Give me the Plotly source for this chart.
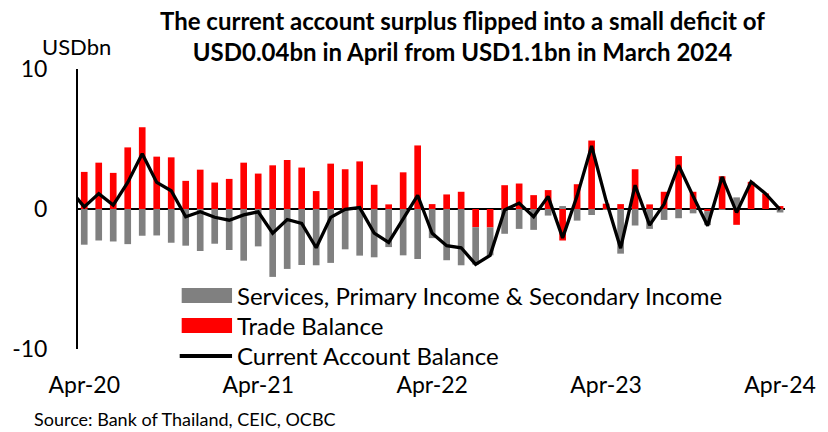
import plotly.graph_objects as go

# Month categories (Mar-20 only carries the line's lead-in point)
months = [
    "Mar-20", "Apr-20", "May-20", "Jun-20", "Jul-20", "Aug-20", "Sep-20", "Oct-20", "Nov-20", "Dec-20",
    "Jan-21", "Feb-21", "Mar-21", "Apr-21", "May-21", "Jun-21", "Jul-21", "Aug-21", "Sep-21", "Oct-21", "Nov-21", "Dec-21",
    "Jan-22", "Feb-22", "Mar-22", "Apr-22", "May-22", "Jun-22", "Jul-22", "Aug-22", "Sep-22", "Oct-22", "Nov-22", "Dec-22",
    "Jan-23", "Feb-23", "Mar-23", "Apr-23", "May-23", "Jun-23", "Jul-23", "Aug-23", "Sep-23", "Oct-23", "Nov-23", "Dec-23",
    "Jan-24", "Feb-24", "Mar-24", "Apr-24",
]
bar_months = months[1:]

# Trade balance, USDbn (Apr-20 .. Apr-24)
trade_balance = [
    2.65, 3.31, 2.58, 4.40, 5.84, 3.74, 3.69, 2.01, 2.81,
    1.89, 2.15, 3.31, 2.53, 3.12, 3.50, 2.96, 1.28, 3.24, 2.84, 3.40, 1.73,
    0.33, 2.62, 4.54, 0.35, 1.04, 1.23, -1.30, -1.32, 1.70, 1.82, 0.99, 1.35,
    -2.25, 1.77, 4.89, 0.38, 0.35, 2.84, 0.33, 1.23, 3.78, 1.23, -0.15, 2.34,
    -1.13, 1.94, 1.11, 0.21,
]

# Services, primary income & secondary income, USDbn (Apr-20 .. Apr-24)
services_income = [
    -2.55, -2.25, -2.32, -2.51, -1.91, -1.89, -2.41, -2.62, -3.00,
    -2.48, -2.93, -3.69, -2.67, -4.85, -4.28, -4.00, -4.02, -3.85, -2.88, -3.33, -3.45,
    -2.72, -3.31, -3.57, -2.08, -3.66, -4.02, -2.67, -1.99, -1.77, -1.42, -1.49, -0.47,
    0.21, -0.83, -0.43, -0.05, -3.19, -1.18, -1.42, -0.78, -0.66, -0.31, -1.00, -0.05,
    0.83, 0.00, 0.00, -0.25,
]

# Current account balance, USDbn (Mar-20 .. Apr-24)
current_account = [
    1.40,
    0.15, 1.10, 0.28, 1.90, 3.95, 1.90, 1.30, -0.55, -0.19,
    -0.59, -0.80, -0.42, -0.20, -1.73, -0.75, -1.03, -2.77, -0.60, -0.02, 0.10, -1.72,
    -2.39, -0.72, 0.98, -1.73, -2.62, -2.77, -3.95, -3.31, -0.07, 0.42, -0.55, 0.90,
    -2.06, 0.94, 4.50, 0.60, -2.80, 1.70, -1.15, 0.35, 3.12, 0.92, -1.20, 2.29,
    -0.25, 1.94, 1.10, -0.04,
]

tick_labels = ["Apr-20", "Apr-21", "Apr-22", "Apr-23", "Apr-24"]
y_ticks = [-10, 0, 10]

series_names = [
    "Services, Primary Income & Secondary Income",
    "Trade Balance",
    "Current Account Balance",
]

RED = "#FF0000"
GREY = "#808080"
FONT = "Lato"

fig = go.Figure()
fig.add_trace(go.Bar(x=bar_months, y=trade_balance, name=series_names[1],
                     marker=dict(color=RED, line=dict(width=0)), width=0.46))
fig.add_trace(go.Bar(x=bar_months, y=services_income, name=series_names[0],
                     marker=dict(color=GREY, line=dict(width=0)), width=0.46))
fig.add_trace(go.Scatter(x=months, y=current_account, name=series_names[2], mode="lines",
                         line=dict(color="black", width=3.3)))

# Plot-area geometry (pixels)
W, H = 828, 432
ML, MR, MT, MB = 77, 35, 69, 83
PW, PH = W - ML - MR, H - MT - MB


def px_x(px):
    return (px - ML) / PW


def px_y(py):
    return (H - MB - py) / PH


shapes = [
    dict(type="rect", xref="paper", yref="paper", x0=px_x(182), x1=px_x(233),
         y0=px_y(303), y1=px_y(288), fillcolor=GREY, line=dict(width=0)),
    dict(type="rect", xref="paper", yref="paper", x0=px_x(182), x1=px_x(233),
         y0=px_y(333), y1=px_y(318), fillcolor=RED, line=dict(width=0)),
    dict(type="line", xref="paper", yref="paper", x0=px_x(180), x1=px_x(233),
         y0=px_y(356), y1=px_y(356), line=dict(color="black", width=4)),
]

annotations = []
for name, py in zip(series_names, [295, 325, 355]):
    annotations.append(dict(text=name, xref="paper", yref="paper", x=px_x(236), y=px_y(py),
                            xanchor="left", yanchor="middle", showarrow=False,
                            font=dict(family=FONT, size=24, color="black")))
annotations.append(dict(text="USDbn", xref="paper", yref="paper", x=px_x(39), y=px_y(46),
                        xanchor="left", yanchor="middle", showarrow=False,
                        font=dict(family=FONT, size=22, color="black")))
annotations.append(dict(text="Source: Bank of Thailand, CEIC, OCBC", xref="paper", yref="paper",
                        x=px_x(30), y=px_y(419), xanchor="left", yanchor="middle", showarrow=False,
                        font=dict(family=FONT, size=18, color="black")))
annotations.append(dict(text="<b>The current account surplus flipped into a small deficit of<br>"
                             "USD0.04bn in April from USD1.1bn in March 2024</b>",
                        xref="paper", yref="paper", x=px_x(466), y=px_y(36),
                        xanchor="center", yanchor="middle", align="center", showarrow=False,
                        font=dict(family=FONT, size=24, color="black")))

fig.update_layout(
    width=W, height=H,
    margin=dict(l=ML, r=MR, t=MT, b=MB),
    paper_bgcolor="white", plot_bgcolor="white",
    barmode="relative",
    showlegend=False,
    font=dict(family=FONT, color="black"),
    shapes=shapes,
    annotations=annotations,
    xaxis=dict(type="category", categoryorder="array", categoryarray=months,
               range=[0.57, 49.34], tickvals=tick_labels, ticktext=tick_labels,
               showgrid=False, showline=False, zeroline=False,
               ticks="outside", ticklen=15, tickcolor="rgba(0,0,0,0)",
               tickfont=dict(family=FONT, size=23, color="black")),
    yaxis=dict(range=[-10, 10], tickvals=y_ticks, ticktext=[str(v) for v in y_ticks],
               showgrid=False, showline=True, linecolor="black", linewidth=2,
               zeroline=True, zerolinecolor="black", zerolinewidth=1.5,
               ticks="outside", ticklen=24, tickcolor="rgba(0,0,0,0)",
               tickfont=dict(family=FONT, size=23, color="black"), layer="above traces"),
)

fig.write_html("out.html", config={"displayModeBar": False},
               post_script="document.body.style.margin='0';")
